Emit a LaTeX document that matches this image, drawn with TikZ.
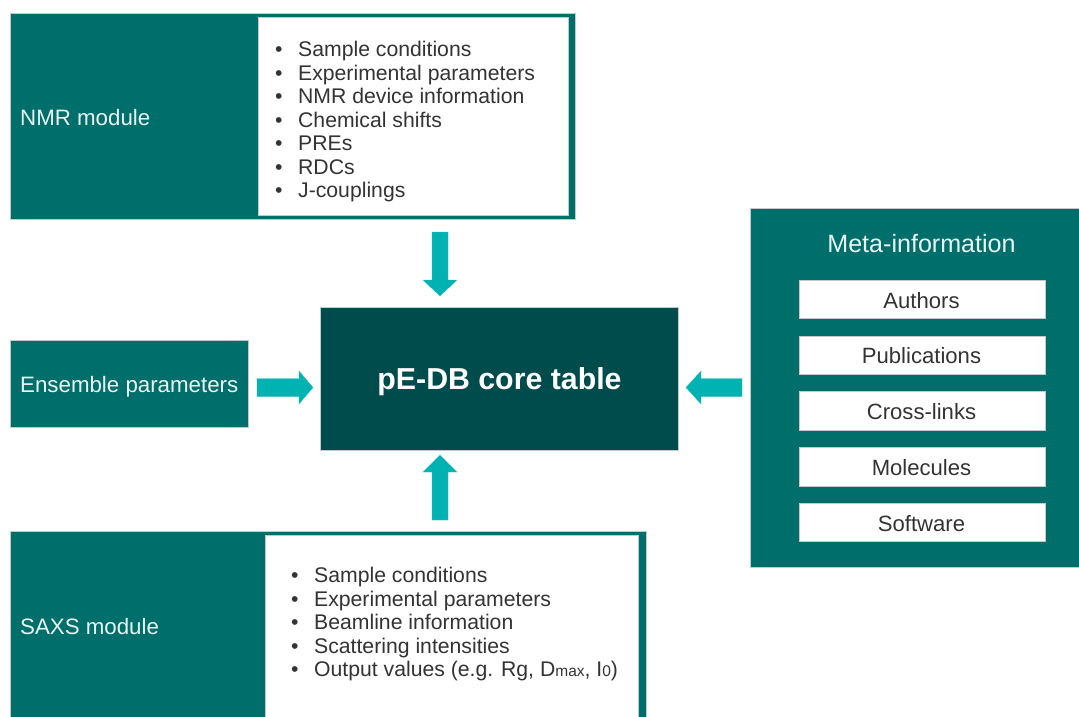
\documentclass[tikz,border=0pt]{standalone}
\usepackage{fontspec}
\setmainfont{Liberation Sans}
\definecolor{tealmain}{HTML}{006E6A}
\definecolor{tealdark}{HTML}{004B4B}
\definecolor{arrowcyan}{HTML}{00B2B2}
\definecolor{edgegray}{HTML}{C4C8C8}
\definecolor{itemgray}{HTML}{333333}
\definecolor{lbltext}{HTML}{EAF6F6}
\begin{document}
\begin{tikzpicture}[x=1pt,y=-1pt,
  tealbox/.style={fill=tealmain, draw=edgegray, line width=0.6pt, inner sep=0pt, anchor=north west},
  corebox/.style={fill=tealdark, draw=edgegray, line width=0.6pt, inner sep=0pt, anchor=north west},
  whitebox/.style={fill=white, draw=edgegray, line width=0.6pt, inner sep=0pt, anchor=north west},
  lbl/.style={inner sep=0pt, text=lbltext, font=\fontsize{22.3}{26}\selectfont},
  itemtxt/.style={inner sep=0pt, text=itemgray, font=\fontsize{21.2}{24}\selectfont, anchor=base west},
  metatxt/.style={inner sep=0pt, text=itemgray, font=\fontsize{22.1}{25}\selectfont, anchor=base},
  arrowfill/.style={fill=arrowcyan, draw=arrowcyan!80!white, line width=0.3pt}]
\useasboundingbox (0,0) rectangle (1079,716);

% NMR module
\node[tealbox, minimum width=565pt, minimum height=206pt] (nmr) at (10,13) {};
\node[whitebox, minimum width=310pt, minimum height=198pt] (nmrlist) at (258,17) {};
\node[lbl, anchor=base west] (nmrlbl) at (20,125) {NMR module};
\foreach \t [count=\i from 0] in {Sample conditions, Experimental parameters, NMR device information, Chemical shifts, PREs, RDCs, J-couplings}{
  \node[itemtxt] (nmrb\i) at (275,56.5+23.5*\i) {\makebox[23pt][l]{•}\t};
}

% Core table
\node[corebox, minimum width=358pt, minimum height=143pt] (core) at (320,307) {};
\node[inner sep=0pt, anchor=base, text=white, font=\fontsize{30.3}{33}\selectfont\bfseries] (corelbl) at (499.5,389.5) {pE-DB core table};

% Ensemble
\node[tealbox, minimum width=238pt, minimum height=87pt] (ens) at (10,340) {};
\node[lbl, anchor=base west] (enslbl) at (20,392) {Ensemble parameters};

% SAXS module
\node[tealbox, minimum width=636pt, minimum height=190pt] (saxs) at (10,531) {};
\node[whitebox, minimum width=373pt, minimum height=186pt] (saxslist) at (265,535) {};
\node[lbl, anchor=base west] (saxslbl) at (20,634) {SAXS module};
\foreach \t [count=\i from 0] in {Sample conditions, Experimental parameters, Beamline information, Scattering intensities}{
  \node[itemtxt] (saxsb\i) at (291,582.5+23.5*\i) {\makebox[23pt][l]{•}\t};
}
\node[itemtxt] (saxsb4) at (291,676.5) {\makebox[23pt][l]{•}Output values (e.g. Rg, D{\fontsize{15.5}{15}\selectfont max}, I{\fontsize{15.5}{15}\selectfont 0})};

% Meta-information
\node[tealbox, minimum width=340pt, minimum height=359pt] (meta) at (750,208) {};
\node[lbl, anchor=base, font=\fontsize{25.1}{28}\selectfont] (metalbl) at (921.5,252.5) {Meta-information};
\foreach \t [count=\i from 0] in {Authors, Publications, Cross-links, Molecules, Software}{
  \node[whitebox, anchor=center, minimum width=246pt, minimum height=38.5pt] (mbox\i) at (922,299.5+55.75*\i) {};
  \node[metatxt] (mtxt\i) at (921.5,308+55.75*\i) {\t};
}

% Arrows
\coordinate (dtip) at (440,296);
\fill[arrowfill] (432,232) -- (448,232) -- (448,280) -- (457,280) -- (dtip) -- (423,280) -- (432,280) -- cycle;
\coordinate (utip) at (440,455);
\fill[arrowfill] (432,520) -- (448,520) -- (448,472) -- (457,472) -- (utip) -- (423,472) -- (432,472) -- cycle;
\coordinate (rtip) at (313,387.5);
\fill[arrowfill] (257,378.5) -- (299,378.5) -- (299,371) -- (rtip) -- (299,404) -- (299,396.5) -- (257,396.5) -- cycle;
\coordinate (ltip) at (686,387.5);
\fill[arrowfill] (742,378.5) -- (701,378.5) -- (701,371) -- (ltip) -- (701,404) -- (701,396.5) -- (742,396.5) -- cycle;
\end{tikzpicture}
\end{document}
